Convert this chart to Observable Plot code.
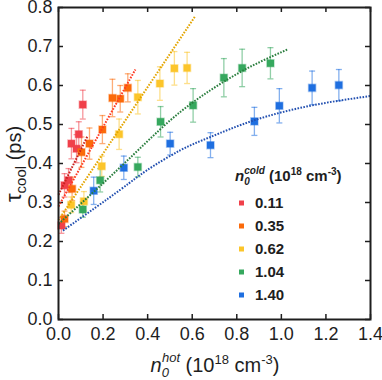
<!DOCTYPE html>
<html><head><meta charset="utf-8">
<script src="https://cdn.jsdelivr.net/npm/d3@7"></script>
<script src="https://cdn.jsdelivr.net/npm/@observablehq/plot@0.6"></script>
<style>
body{margin:0;background:#fff;}
svg{font-family:"Liberation Sans",Arial,Helvetica,sans-serif;}
</style>
</head><body><div id="chart"></div>
<script>
// ---- data ----
const seriesNames = ["0.11", "0.35", "0.62", "1.04", "1.40"];
const xTicks = [0, 0.2, 0.4, 0.6, 0.8, 1.0, 1.2, 1.4];
const yTicks = [0, 0.1, 0.2, 0.3, 0.4, 0.5, 0.6, 0.7, 0.8];

const red_x   = [0.013, 0.027, 0.045, 0.058, 0.081, 0.091, 0.109];
const red_y   = [0.241, 0.344, 0.357, 0.451, 0.438, 0.475, 0.551];
const red_err = [0.020, 0.030, 0.030, 0.039, 0.036, 0.032, 0.037];

const orange_x   = [0.027, 0.061, 0.103, 0.139, 0.197, 0.242, 0.277, 0.311];
const orange_y   = [0.258, 0.335, 0.429, 0.451, 0.487, 0.568, 0.566, 0.594];
const orange_err = [0.020, 0.030, 0.039, 0.040, 0.036, 0.048, 0.034, 0.036];

const yellow_x   = [0.057, 0.114, 0.194, 0.272, 0.356, 0.455, 0.520, 0.577];
const yellow_y   = [0.294, 0.303, 0.393, 0.475, 0.570, 0.605, 0.644, 0.645];
const yellow_err = [0.020, 0.025, 0.026, 0.039, 0.043, 0.043, 0.043, 0.040];

const green_x   = [0.109, 0.187, 0.356, 0.458, 0.604, 0.742, 0.824, 0.951];
const green_y   = [0.282, 0.357, 0.391, 0.507, 0.549, 0.620, 0.645, 0.657];
const green_err = [0.020, 0.030, 0.025, 0.039, 0.043, 0.049, 0.048, 0.040];

const blue_x   = [0.158, 0.293, 0.501, 0.682, 0.879, 0.991, 1.138, 1.258];
const blue_y   = [0.330, 0.389, 0.451, 0.447, 0.508, 0.548, 0.594, 0.601];
const blue_err = [0.035, 0.030, 0.029, 0.032, 0.036, 0.044, 0.043, 0.040];

// fit curves
const redFit_x = [0, 0.13];
const redFit_y = [0.32, 0.47];
const orangeFit_x = [0, 0.345];
const orangeFit_y = [0.29, 0.641];
const yellowFit_x = [0, 0.615];
const yellowFit_y = [0.255, 0.779];
const greenFit_x = [0, 0.278, 0.502, 0.682, 0.85, 1.03];
const greenFit_y = [0.245, 0.391, 0.511, 0.588, 0.645, 0.693];
const blueFit_x = [0.02, 0.278, 0.395, 0.547, 0.682, 0.879, 1.138, 1.4];
const blueFit_y = [0.228, 0.333, 0.382, 0.434, 0.468, 0.511, 0.549, 0.573];

// ---- styles ----
const pointColors = ["#f0404a", "#fb6a0a", "#fcc52a", "#36a85e", "#1f6fe0"];
const lineColors  = ["#c8201e", "#ff3a22", "#e3a500", "#2a7e3e", "#2350b0"];

// ---- tables built from the arrays ----
const pts = [
  [red_x, red_y, red_err], [orange_x, orange_y, orange_err],
  [yellow_x, yellow_y, yellow_err], [green_x, green_y, green_err],
  [blue_x, blue_y, blue_err]
];
const rows = pts.flatMap(([xs, ys, es], i) => xs.map((x, j) => ({s: seriesNames[i], x, y: ys[j], err: es[j]})));
const fits = [[redFit_x, redFit_y], [orangeFit_x, orangeFit_y], [yellowFit_x, yellowFit_y], [greenFit_x, greenFit_y], [blueFit_x, blueFit_y]]
  .map(([xs, ys]) => xs.map((x, j) => ({x, y: ys[j]})));

const W = 382, H = 380, mL = 58, mR = 12, mT = 7, mB = 61;
const plotH = H - mT - mB, plotW = W - mL - mR;
const ink = "#1e1e1e";

const capSymbol = {draw(ctx, size) { const w = Math.sqrt(size / Math.PI); ctx.moveTo(-w, 0); ctx.lineTo(w, 0); }};

const fitMarks = fits.map((f, i) => Plot.line(f, {
  x: "x", y: "y", stroke: lineColors[i], strokeWidth: 2, strokeDasharray: "1.6,1.4",
  strokeLinecap: "butt", strokeLinejoin: "miter",
  curve: i >= 3 ? "natural" : "linear"
}));

const plot = Plot.plot({
  width: W, height: H,
  marginLeft: mL, marginRight: mR, marginTop: mT, marginBottom: mB,
  x: {domain: [0, 1.4]},
  y: {domain: [0, 0.8]},
  color: {domain: seriesNames, range: pointColors},
  style: {fontFamily: '"Liberation Sans", Arial, sans-serif', color: ink, background: "white"},
  marks: [
    Plot.axisX({ticks: xTicks, tickSize: 0, tickPadding: 8, tickFormat: d3.format(".1f"), label: null, fontSize: 18}),
    Plot.axisY({ticks: yTicks, tickSize: 0, tickPadding: 6, tickFormat: d3.format(".1f"), label: null, fontSize: 18}),
    // inward ticks on all four sides
    Plot.ruleX(xTicks, {insetTop: plotH - 5, stroke: ink, strokeWidth: 1.5}),
    Plot.ruleX(xTicks, {insetBottom: plotH - 5, stroke: ink, strokeWidth: 1.5}),
    Plot.ruleY(yTicks, {insetRight: plotW - 5, stroke: ink, strokeWidth: 1.5}),
    Plot.ruleY(yTicks, {insetLeft: plotW - 5, stroke: ink, strokeWidth: 1.5}),
    // error bars
    Plot.ruleX(rows, {x: "x", y1: d => d.y - d.err, y2: d => d.y + d.err, stroke: "s", strokeOpacity: 0.55, strokeWidth: 1.3}),
    Plot.dot(rows, {x: "x", y: d => d.y + d.err, symbol: capSymbol, r: 3, stroke: "s", fill: "none", strokeOpacity: 0.55, strokeWidth: 1.3}),
    Plot.dot(rows, {x: "x", y: d => d.y - d.err, symbol: capSymbol, r: 3, stroke: "s", fill: "none", strokeOpacity: 0.55, strokeWidth: 1.3}),
    // points
    Plot.dot(rows, {x: "x", y: "y", symbol: "square", r: 4, fill: "s", stroke: "s", strokeOpacity: 0.35, strokeWidth: 1.5}),
    ...fitMarks,
    Plot.frame({stroke: ink, strokeWidth: 2})
  ]
});

document.getElementById("chart").appendChild(plot);

// ---- titles and legend as real text ----
const svg = d3.select(plot);

// y-axis title
const yl = svg.append("text")
  .attr("transform", "translate(21,164) rotate(-90)")
  .attr("text-anchor", "middle").attr("font-size", 20).attr("fill", ink);
yl.append("tspan").attr("font-size", 22).text("τ");
yl.append("tspan").attr("font-size", 15).attr("dy", 5).text("cool");
yl.append("tspan").attr("dy", -5).text(" (ps)");

// x-axis title
const xl = svg.append("text")
  .attr("x", 215).attr("y", 372)
  .attr("text-anchor", "middle").attr("font-size", 20).attr("fill", ink);
xl.append("tspan").attr("font-style", "italic").text("n");
xl.append("tspan").attr("font-style", "italic").attr("font-size", 13).attr("dy", 5).text("0");
xl.append("tspan").attr("font-style", "italic").attr("font-size", 13).attr("dx", -7).attr("dy", -15).text("hot");
xl.append("tspan").attr("dy", 10).text(" (10");
xl.append("tspan").attr("font-size", 13).attr("dy", -8).text("18");
xl.append("tspan").attr("dy", 8).text(" cm");
xl.append("tspan").attr("font-size", 13).attr("dy", -8).text("-3");
xl.append("tspan").attr("dy", 8).text(")");

// legend
const lg = svg.append("g").attr("font-weight", "bold").attr("fill", ink).attr("text-anchor", "start");
const lt = lg.append("text").attr("x", 235).attr("y", 181).attr("font-size", 15);
lt.append("tspan").attr("font-style", "italic").text("n");
lt.append("tspan").attr("font-style", "italic").attr("font-size", 10).attr("dy", 4).text("0");
lt.append("tspan").attr("font-style", "italic").attr("font-size", 10).attr("dx", -5.5).attr("dy", -11).text("cold");
lt.append("tspan").attr("dy", 7).text(" (10");
lt.append("tspan").attr("font-size", 10).attr("dy", -6).text("18");
lt.append("tspan").attr("dy", 6).text(" cm");
lt.append("tspan").attr("font-size", 10).attr("dy", -6).text("-3");
lt.append("tspan").attr("dy", 6).text(")");

seriesNames.forEach((name, i) => {
  const cy = 203 + i * 23;
  lg.append("rect").attr("x", 239).attr("y", cy - 2.5).attr("width", 5).attr("height", 5).attr("fill", pointColors[i]);
  lg.append("text").attr("x", 255).attr("y", cy).attr("dy", "0.36em").attr("font-size", 15).text(name);
});
</script>
</body></html>
